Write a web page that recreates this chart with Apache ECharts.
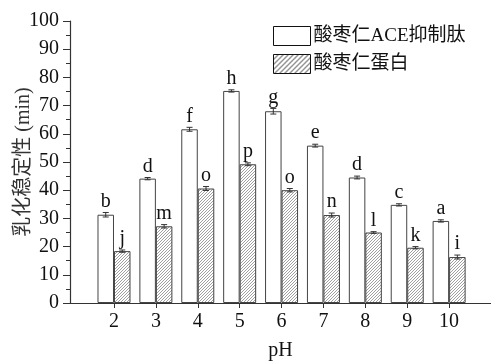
<!DOCTYPE html>
<html><head><meta charset="utf-8">
<script src="https://cdn.jsdelivr.net/npm/echarts@6/dist/echarts.min.js"></script>
<style>html,body{margin:0;padding:0;background:#fff}#c{width:491px;height:361px}</style>
</head><body><div id="c"></div>
<script>
const categories = [2, 3, 4, 5, 6, 7, 8, 9, 10];
const peptideValues = [31.3, 44.1, 61.6, 75.2, 68.0, 55.8, 44.5, 34.8, 29.1];
const peptideErrors = [0.8, 0.4, 0.7, 0.4, 1.0, 0.5, 0.5, 0.4, 0.4];
const peptideLetters = ['b', 'd', 'f', 'h', 'g', 'e', 'd', 'c', 'a'];
const proteinValues = [18.4, 27.2, 40.6, 49.2, 40.0, 31.2, 25.0, 19.6, 16.3];
const proteinErrors = [0.4, 0.6, 0.7, 0.5, 0.6, 0.7, 0.3, 0.4, 0.7];
const proteinLetters = ['j', 'm', 'o', 'p', 'o', 'n', 'l', 'k', 'i'];
const yTicks = [0, 10, 20, 30, 40, 50, 60, 70, 80, 90, 100];
const seriesNames = ['酸枣仁ACE抑制肽', '酸枣仁蛋白'];

function hatch(size, color, lw) {
  const c = document.createElement('canvas');
  c.width = size; c.height = size;
  const g = c.getContext('2d');
  g.fillStyle = '#fff'; g.fillRect(0, 0, size, size);
  g.strokeStyle = color; g.lineWidth = lw;
  g.beginPath();
  g.moveTo(-1, size + 1); g.lineTo(size + 1, -1);
  g.moveTo(-1, 1); g.lineTo(1, -1);
  g.moveTo(size - 1, size + 1); g.lineTo(size + 1, size - 1);
  g.stroke();
  return c;
}
const hatchFill = { image: hatch(3, '#888', 0.8), repeat: 'repeat' };
const legendHatch = { image: hatch(5, '#111', 0.9), repeat: 'repeat' };

const BW = 16.5;
const FONT = '"Liberation Serif", "Times New Roman", "Noto Sans CJK SC", serif';

function errData(vals, errs, off) {
  return categories.map((c, i) => [c, vals[i], errs[i], off]);
}
function renderErr(params, api) {
  const x = api.value(0), y = api.value(1), e = api.value(2), off = api.value(3);
  const top = api.coord([x, y + e]);
  const bot = api.coord([x, y - e]);
  const cx = top[0] + off;
  const letter = params.seriesIndex === 2 ? peptideLetters[params.dataIndex] : proteinLetters[params.dataIndex];
  return {
    type: 'group',
    children: [
      { type: 'line', shape: { x1: cx, y1: top[1], x2: cx, y2: bot[1] }, style: { stroke: '#333', lineWidth: 1 } },
      { type: 'line', shape: { x1: cx - 3, y1: top[1], x2: cx + 3, y2: top[1] }, style: { stroke: '#333', lineWidth: 1 } },
      { type: 'line', shape: { x1: cx - 3, y1: bot[1], x2: cx + 3, y2: bot[1] }, style: { stroke: '#333', lineWidth: 1 } },
      { type: 'text', x: cx, y: top[1] - 1, style: { text: letter, fill: '#111', font: '20px ' + FONT, textAlign: 'center', textVerticalAlign: 'bottom' } }
    ]
  };
}

const chart = echarts.init(document.getElementById('c'), null, { renderer: 'canvas' });
chart.setOption({
  animation: false,
  backgroundColor: '#fff',
  grid: { left: 70, right: 0, top: 21, bottom: 58, containLabel: false, outerBoundsMode: 'none' },
  legend: {
    left: 268, top: 21, orient: 'vertical', itemGap: 8,
    itemWidth: 37, itemHeight: 19, icon: 'rect',
    textStyle: { fontFamily: FONT, fontSize: 19, color: '#111', padding: [0, 0, 0, -2] },
    data: [
      { name: seriesNames[0], itemStyle: { color: '#fff', borderColor: '#111', borderWidth: 1 } },
      { name: seriesNames[1], itemStyle: { color: legendHatch, borderColor: '#111', borderWidth: 1 } }
    ]
  },
  xAxis: {
    type: 'value', min: 0.95, max: 11,
    axisLine: { lineStyle: { color: '#333', width: 1.2 } },
    axisTick: { show: true, length: 5, inside: false, customValues: categories, lineStyle: { color: '#333' } },
    splitLine: { show: false },
    axisLabel: { fontFamily: FONT, fontSize: 20, color: '#111', margin: 9, customValues: categories },
    name: 'pH', nameLocation: 'middle', nameGap: 38, nameMoveOverlap: false,
    nameTextStyle: { fontFamily: FONT, fontSize: 20, color: '#111' }
  },
  yAxis: {
    type: 'value', min: yTicks[0], max: yTicks[yTicks.length - 1], interval: 10,
    axisLine: { show: true, lineStyle: { color: '#333', width: 1.2 } },
    axisTick: { show: true, length: 7, lineStyle: { color: '#333' } },
    minorTick: { show: true, splitNumber: 2, length: 4, lineStyle: { color: '#333' } },
    splitLine: { show: false },
    axisLabel: { fontFamily: FONT, fontSize: 20, color: '#111', margin: 11 },
    name: '乳化稳定性 (min)', nameLocation: 'middle', nameGap: 36, nameRotate: 90, nameMoveOverlap: false,
    nameTextStyle: { fontFamily: FONT, fontSize: 20, color: '#333' }
  },
  series: [
    {
      name: seriesNames[0], type: 'bar', barWidth: BW, barGap: '0%',
      data: categories.map((c, i) => [c, peptideValues[i]]),
      itemStyle: { color: '#fff', borderColor: '#444', borderWidth: 1 }
    },
    {
      name: seriesNames[1], type: 'bar', barWidth: BW, barGap: '0%',
      data: categories.map((c, i) => [c, proteinValues[i]]),
      itemStyle: { color: hatchFill, borderColor: '#444', borderWidth: 1 }
    },
    {
      type: 'custom', renderItem: renderErr, silent: true, z: 5,
      encode: { x: 0, y: 1 },
      data: errData(peptideValues, peptideErrors, -BW / 2)
    },
    {
      type: 'custom', renderItem: renderErr, silent: true, z: 5,
      encode: { x: 0, y: 1 },
      data: errData(proteinValues, proteinErrors, BW / 2)
    }
  ]
});
</script></body></html>
